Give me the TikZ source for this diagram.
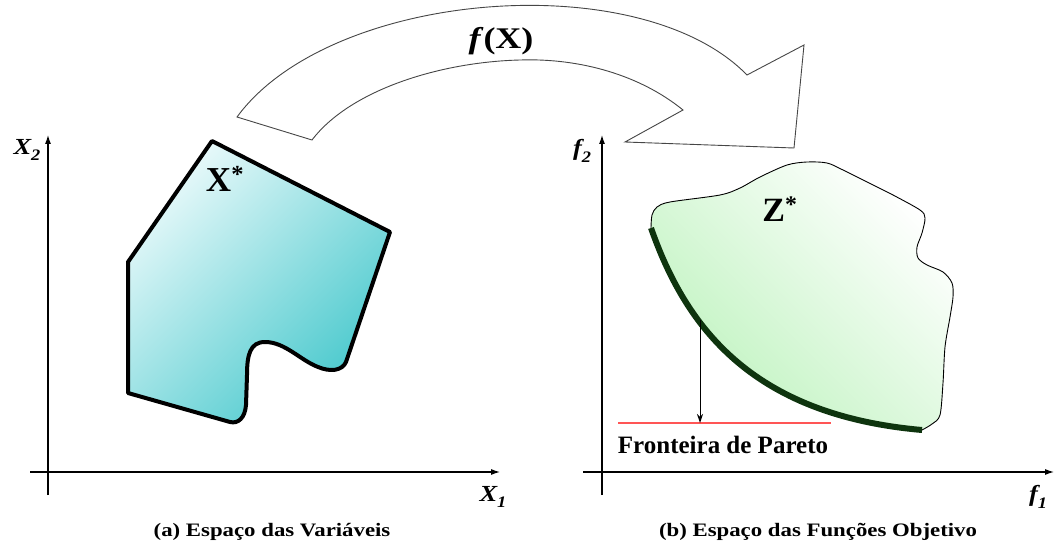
\documentclass[tikz,border=0pt]{standalone}
\usepackage{fontspec}
\setmainfont{Liberation Serif}
\usetikzlibrary{arrows.meta}
\definecolor{tealdark}{RGB}{70,200,204}
\definecolor{teallight}{RGB}{232,249,250}
\definecolor{greenlight}{RGB}{190,243,190}
\definecolor{paretogreen}{RGB}{14,52,14}
\definecolor{redline}{RGB}{255,85,85}
\definecolor{arrowgray}{RGB}{70,70,70}
\newcommand{\axlab}[2]{\scalebox{1.15}[1]{\fontsize{23}{23}\selectfont\bfseries\itshape #1\raisebox{-0.28em}{\fontsize{16}{16}\selectfont #2}}}
\newcommand{\stretchtxt}[1]{\scalebox{1.2}[1]{#1}}
\begin{document}
\begin{tikzpicture}[x=1pt,y=-1pt,
  axis/.style={line width=1.1pt,-{Latex[length=9pt,width=6pt]}},
  axislabel/.style={inner sep=0pt},
  caption/.style={inner sep=0pt,font=\fontsize{19}{19}\selectfont\bfseries},
  setlabel/.style={inner sep=0pt,font=\fontsize{35}{35}\selectfont\bfseries},
  bigarrow/.style={draw=arrowgray,line width=0.9pt,fill=white,line join=miter},
  pareto/.style={line width=6pt,draw=paretogreen,line cap=butt}]
\useasboundingbox (0,0) rectangle (1059,548);

% big mapping arrow
\path[bigarrow] (237,117) .. controls (330,-10) and (640,-35) .. (747,75)
  -- (804,45) -- (794,148) -- (625,142) -- (683,110)
  .. controls (640,75) and (580,58) .. (520,60)
  .. controls (440,62) and (350,90) .. (312,140) -- cycle;
\node[inner sep=0pt,font=\fontsize{30}{30}\selectfont\bfseries] (fx) at (501,41) {\stretchtxt{\textit{f}(X)}};

% left axes
\coordinate (lxs) at (30,472);
\coordinate (lxe) at (500,472);
\coordinate (lys) at (48,495);
\coordinate (lye) at (48,135);
\draw[axis] (lxs) -- (lxe);
\draw[axis] (lys) -- (lye);
\node[axislabel] (x2) at (27,150) {\axlab{X}{2}};
\node[axislabel] (x1) at (493,497) {\axlab{X}{1}};

% right axes
\coordinate (rxs) at (583,472);
\coordinate (rxe) at (1054,472);
\coordinate (rys) at (602,495);
\coordinate (rye) at (602,135);
\draw[axis] (rxs) -- (rxe);
\draw[axis] (rys) -- (rye);
\node[axislabel] (f2) at (582,151) {\axlab{f}{2}};
\node[axislabel] (f1) at (1038,497) {\axlab{f}{1}};

% X* region
\shadedraw[line width=4pt,line join=round,top color=teallight,bottom color=tealdark,shading angle=45]
  (212,141) -- (390,232) -- (346,362)
  .. controls (342,371) and (330,372) .. (318,367)
  .. controls (300,360) and (285,342) .. (265,342)
  .. controls (250,342) and (247,355) .. (247,375)
  -- (246,405) .. controls (245,418) and (238,424) .. (230,422)
  -- (128,393) -- (128,262) -- cycle;
\node[setlabel] (xs) at (225,179) {X\textsuperscript{*}};

% Z* region
\shade[top color=white,bottom color=greenlight,shading angle=-45]
  (651,228) .. controls (685,325) and (750,415) .. (922,430)
  -- plot[smooth] coordinates {(922,430) (932,424) (940,415) (943,383) (945,347) (950,317) (953,297) (952,283) (943,272) (927,265) (918,258) (917,247) (922,233) (925,218) (920,210) (893,195) (877,187) (843,170) (827,163) (807,162) (787,165) (760,177) (740,188) (720,195) (670,202) (657,207) (652,215) (651,228)}
  -- cycle;
\draw[line width=0.9pt]
  plot[smooth] coordinates {(922,430) (932,424) (940,415) (943,383) (945,347) (950,317) (953,297) (952,283) (943,272) (927,265) (918,258) (917,247) (922,233) (925,218) (920,210) (893,195) (877,187) (843,170) (827,163) (807,162) (787,165) (760,177) (740,188) (720,195) (670,202) (657,207) (652,215) (651,228)};
\draw[pareto] (651,228) .. controls (685,325) and (750,415) .. (922,430);
\node[setlabel,font=\fontsize{34}{34}\selectfont\bfseries] (zs) at (780,209) {Z\textsuperscript{*}};

% Pareto front marker
\coordinate (pa) at (700,320);
\coordinate (pb) at (700,423);
\coordinate (rl) at (618,423);
\coordinate (rr) at (831,423);
\draw[line width=1.4pt,redline] (rl) -- (rr);
\draw[line width=1pt,-{Stealth[length=9pt,width=6pt]}] (pa) -- (pb);
\node[inner sep=0pt,font=\fontsize{25}{25}\selectfont\bfseries] (fp) at (723,445) {Fronteira de Pareto};

% captions
\node[caption] (ca) at (272,532) {\stretchtxt{(a) Espaço das Variáveis}};
\node[caption] (cb) at (818,532) {\stretchtxt{(b) Espaço das Funções Objetivo}};
\end{tikzpicture}
\end{document}
